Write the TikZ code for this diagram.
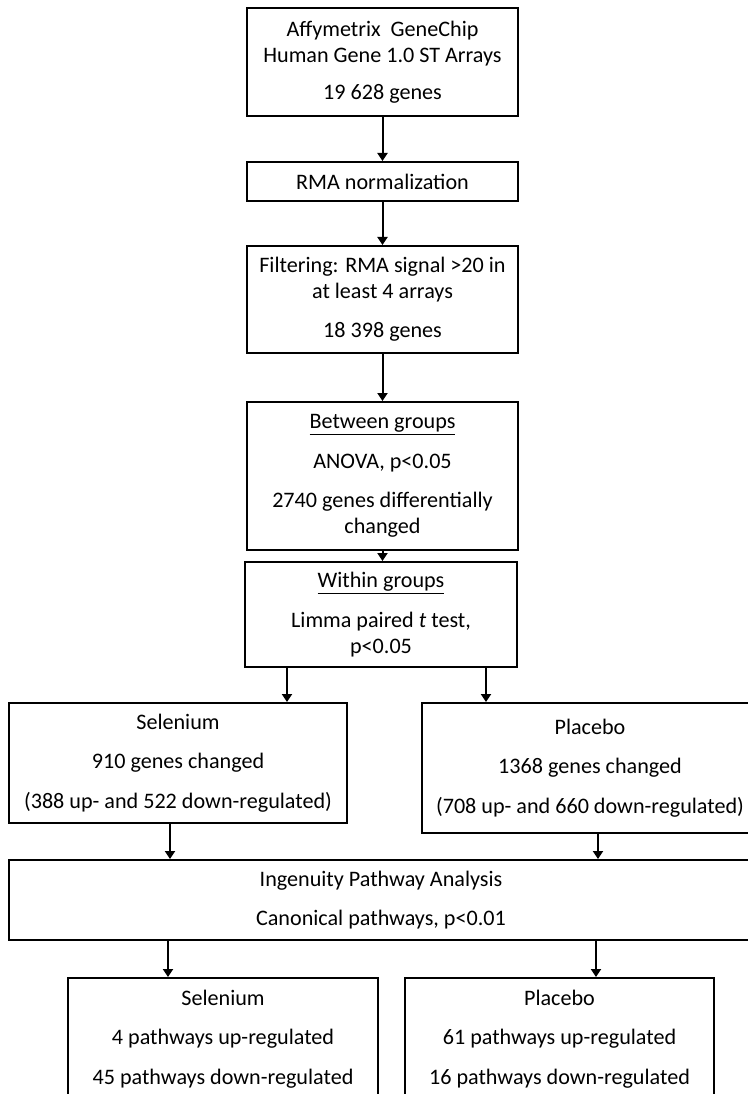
\documentclass[tikz,border=0pt]{standalone}
\usepackage{fontspec}
\setmainfont{Carlito}
\usetikzlibrary{arrows.meta}

\tikzset{
  box/.style={draw, line width=1.5pt, inner sep=0pt, align=center,
    font=\fontsize{16.6pt}{19.5pt}\selectfont},
  arr/.style={line width=1.5pt, -{Triangle[width=7.5pt,length=6pt]}}
}

\begin{document}
\begin{tikzpicture}[x=0.75pt, y=-0.75pt]

  \useasboundingbox (0,0) rectangle (748,1094); % page size
  \clip (0,0) rectangle (748,1094);

  \node[box, minimum width=203.25pt, minimum height=81pt] (chip) at (382.5,62)
    {Affymetrix\ \ GeneChip\\Human Gene 1.0 ST Arrays\\[8pt]19 628 genes};
  \node[box, minimum width=203.25pt, minimum height=29.25pt] (rma) at (382.5,181.5)
    {RMA normalization};
  \node[box, minimum width=203.25pt, minimum height=80.25pt] (filt) at (382.5,299.5)
    {Filtering: RMA signal >20 in\\at least 4 arrays\\[10pt]18 398 genes};
  \node[box, minimum width=203.25pt, minimum height=111pt] (anova) at (382.5,476)
    {\underline{Between groups}\\[10pt]ANOVA, p<0.05\\[10pt]2740 genes differentially\\changed};
  \node[box, minimum width=204pt, minimum height=78.75pt] (limma) at (381,614.5)
    {\underline{Within groups}\\[10pt]Limma paired \textit{t} test,\\p<0.05};

  % gene lists
  \node[box, minimum width=253.5pt, minimum height=90pt] (selgenes) at (178,763)
    {Selenium\\[10pt]910 genes changed\\[10pt](388 up- and 522 down-regulated)};
  \node[box, minimum width=252pt, minimum height=97.5pt] (plagenes) at (590,768)
    {Placebo\\[10pt]1368 genes changed\\[10pt](708 up- and 660 down-regulated)};

  \node[box, minimum width=558pt, minimum height=60pt] (ipa) at (381,900)
    {Ingenuity Pathway Analysis\\[10pt]Canonical pathways, p<0.01};

  % pathways
  \node[box, minimum width=232.5pt, minimum height=91.5pt] (selpath) at (223,1039)
    {Selenium\\[10pt]4 pathways up-regulated\\[10pt]45 pathways down-regulated};
  \node[box, minimum width=231.75pt, minimum height=91.5pt] (plapath) at (559.5,1039)
    {Placebo\\[10pt]61 pathways up-regulated\\[10pt]16 pathways down-regulated};

  \draw[arr] (chip.south) -- (rma.north);
  \draw[arr] (rma.south) -- (filt.north);
  \draw[arr] (filt.south) -- (anova.north);
  \draw[arr] (anova.south) -- (anova.south |- limma.north);

  \coordinate (lx) at (287,0); % split to the groups
  \coordinate (rx) at (486,0);
  \draw[arr] (limma.south -| lx) -- (selgenes.north -| lx);
  \draw[arr] (limma.south -| rx) -- (plagenes.north -| rx);

  \coordinate (sx) at (170,0);
  \coordinate (px) at (598,0);
  \draw[arr] (selgenes.south -| sx) -- (ipa.north -| sx);
  \draw[arr] (plagenes.south -| px) -- (ipa.north -| px);

  \coordinate (sy) at (168,0);
  \coordinate (py) at (596,0);
  \draw[arr] (ipa.south -| sy) -- (selpath.north -| sy);
  \draw[arr] (ipa.south -| py) -- (plapath.north -| py);

\end{tikzpicture}
\end{document}
